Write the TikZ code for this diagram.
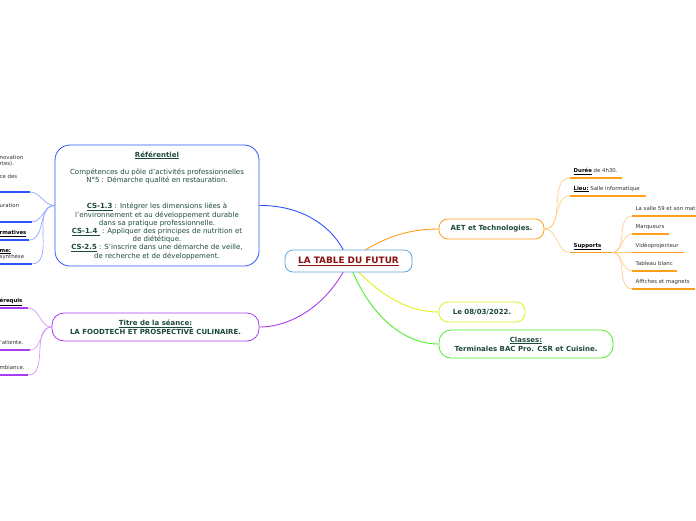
\documentclass[tikz,border=0pt]{standalone}
\usepackage{fontspec}
\setmainfont{DejaVu Sans}
\usetikzlibrary{backgrounds}
\definecolor{boxgreen}{HTML}{1C4A3A}
\definecolor{leafgray}{HTML}{333333}
\definecolor{hubred}{HTML}{8B1010}
\definecolor{hubblue}{HTML}{5DA5DA}
\definecolor{refblue}{HTML}{2F55FF}
\definecolor{reflight}{HTML}{93A8FF}
\definecolor{titrepurple}{HTML}{A83CF0}
\definecolor{titrelight}{HTML}{D49CF7}
\definecolor{aetorange}{HTML}{FF9F1C}
\definecolor{aetlight}{HTML}{FFCF88}
\definecolor{dateyellow}{HTML}{E2F01C}
\definecolor{classgreen}{HTML}{4EEE2C}
\newcommand\boxfont{\fontsize{7}{8.2}\selectfont}
\newcommand\leaffont{\fontsize{5.4}{6.5}\selectfont}
\tikzset{
  topic/.style={draw, fill=white, line width=0.8pt, align=center, text=boxgreen, font=\boxfont, inner sep=2pt},
  leaf/.style={anchor=south west, inner xsep=3.5pt, inner ysep=4pt, text depth=1.3pt, align=left, font=\leaffont, text=leafgray},
  twig/.style={line width=1.6pt},
  link/.style={line width=0.7pt},
  branch/.style={line width=0.9pt},
}
\begin{document}
\begin{tikzpicture}[x=1pt,y=-1pt]
\useasboundingbox (0,0) rectangle (696,520);
\clip (0,0) rectangle (696,520);

\node[topic, draw=hubblue, rounded corners=8pt, minimum width=127pt, minimum height=22pt, text=hubred, font=\fontsize{8.9}{10}\selectfont\bfseries] (futur) at (348.5,261) {\underline{LA TABLE DU FUTUR}};

\node[topic, draw=refblue, rounded corners=15pt, minimum width=204pt, minimum height=121pt] (ref) at (157,205.5)
  {\textbf{\underline{Référentiel}}\\[8.8pt]
   Compétences du pôle d'activités professionnelles\\
   N°5 : Démarche qualité en restauration.\\[18.5pt]
   \textbf{\underline{CS-1.3}} : Intégrer les dimensions liées à\\
   l'environnement et au développement durable\\
   dans sa pratique professionnelle.\\
   \textbf{\underline{CS-1.4 }} : Appliquer des principes de nutrition et\\
   de diététique.\\
   \textbf{\underline{CS-2.5}} : S'inscrire dans une démarche de veille,\\
   de recherche et de développement.};
\node[topic, draw=titrepurple, rounded corners=12pt, minimum width=207pt, minimum height=28pt, font=\boxfont\bfseries] (titre) at (155.5,327)
  {\underline{Titre de la séance:}\\[0.8pt] LA FOODTECH ET PROSPECTIVE CULINAIRE.};
\node[topic, draw=aetorange, rounded corners=9pt, minimum width=105pt, minimum height=20pt, font=\boxfont\bfseries] (aet) at (491.5,229) {AET et Technologies.};
\node[topic, draw=dateyellow, rounded corners=9pt, minimum width=86pt, minimum height=20pt, font=\boxfont\bfseries] (date) at (482,312) {Le 08/03/2022.};
\node[topic, draw=classgreen, rounded corners=12pt, minimum width=174pt, minimum height=28pt, font=\boxfont\bfseries] (classes) at (526,344)
  {\underline{Classes:}\\[0.8pt] Terminales BAC Pro. CSR et Cuisine.};

\node[leaf] (duree) at (570,178) {\textcolor{black}{\textbf{\underline{Durée}}} de 4h30.};
\node[leaf] (lieu) at (570,195.7) {\textcolor{black}{\textbf{\underline{Lieu:}}} Salle informatique};
\node[leaf, text=black] (supports) at (570,252.5) {\textbf{\underline{Supports}}};
\node[leaf] (salle) at (632,216) {La salle 59 et son mat};
\node[leaf] (marqueurs) at (632,234) {Marqueurs};
\node[leaf] (video) at (632,252.5) {Vidéoprojecteur};
\node[leaf] (tableau) at (632,270.7) {Tableau blanc};
\node[leaf] (affiches) at (632,288.7) {Affiches et magnets};

\node[leaf, inner ysep=11.9pt] (innov) at (-4,192) {novation\\rtes).\\[6.5pt]ce des};
\node[leaf, inner ysep=12.7pt] (restau) at (-4,222) {uration};
\node[leaf, text=black] (forma) at (-4,240) {\textbf{\underline{rmatives}}};
\node[leaf] (synth) at (-4,264) {\textcolor{black}{\textbf{\underline{me:}}}\\ synthèse};
\node[leaf, text=black] (prereq) at (-4,308) {\textbf{\underline{érequis}}};
\node[leaf] (attente) at (-5,350) {l'attente.};
\node[leaf] (ambiance) at (-4,375) {mbiance.};

\coordinate (innovE) at (30,192);
\coordinate (restauE) at (31.5,222);
\coordinate (formaE) at (29,240);
\coordinate (synthE) at (31.5,264);
\coordinate (prereqE) at (28,308);
\coordinate (attenteE) at (30,350);
\coordinate (ambianceE) at (28,375);

\begin{scope}[on background layer]
\fill[white] (0,0) rectangle (696,520);
\draw[branch, refblue] (futur.center) .. controls (335,225) and (300,205) .. (ref.east);
\draw[branch, titrepurple] (futur.center) .. controls (332,300) and (295,327) .. (titre.east);
\draw[branch, aetorange] (futur.center) .. controls (382,237) and (408,229) .. (aet.west);
\draw[branch, dateyellow] (futur.center) .. controls (378,295) and (408,312) .. (date.west);
\draw[branch, classgreen] (futur.center) .. controls (366,310) and (400,344) .. (classes.west);

\foreach \n/\len in {duree/52, lieu/76, supports/42}{
  \draw[link, aetlight] (aet.east) to[out=0,in=180] (\n.south west);
  \draw[twig, aetorange] (\n.south west) -- ++(\len,0);
}
\foreach \n/\len in {salle/80, marqueurs/37, video/52, tableau/45, affiches/63}{
  \draw[link, aetlight] (supports.south west) ++(42,0) to[out=0,in=180] (\n.south west);
  \draw[twig, aetorange] (\n.south west) -- ++(\len,0);
}
\foreach \n in {innov, restau, forma, synth}{
  \draw[link, reflight] (ref.west) to[out=180,in=0] (\n E);
  \draw[twig, refblue] (\n E) -- (\n.south west);
}
\foreach \n in {prereq, attente, ambiance}{
  \draw[link, titrelight] (titre.west) to[out=180,in=0] (\n E);
  \draw[twig, titrepurple] (\n E) -- (\n.south west);
}
\end{scope}
\end{tikzpicture}
\end{document}
